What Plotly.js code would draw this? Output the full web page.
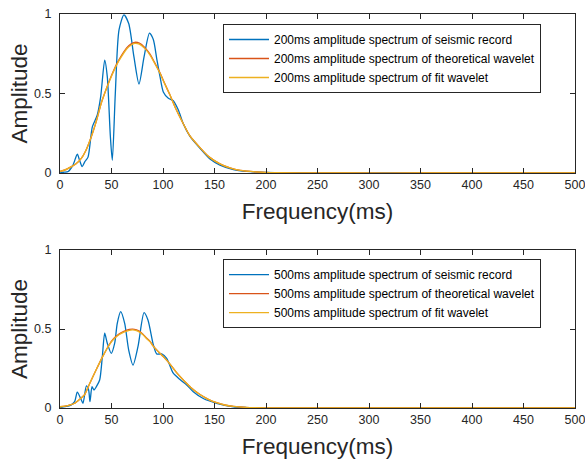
<!DOCTYPE html>
<html>
<head>
<meta charset="utf-8">
<script src="https://cdn.plot.ly/plotly-3.0.1.min.js"></script>
<style>html,body{margin:0;padding:0;background:#fff}#chart{width:585px;height:464px}</style>
</head>
<body>
<div id="chart"></div>
<script>
// ---- Top panel (200ms) ----
const seisTopF = [0, 4, 8, 12.6, 16.8, 19, 21.5, 24, 27.2, 31.4, 36.2, 39.5, 43.4, 45.9, 48.9, 50.8, 53.7, 57.3, 62.1, 66.7, 71.8, 76.7, 81.6, 86.9, 90.6, 93.9, 97.1, 100.3, 105.2, 110, 114.9, 119.7, 126.2, 135.9, 145.6, 155.3, 168.3, 181.2, 200, 230, 260, 300, 350, 400, 450, 500];
const seisTopA = [0, 0.005, 0.01, 0.05, 0.118, 0.08, 0.04, 0.07, 0.10, 0.29, 0.365, 0.48, 0.71, 0.606, 0.23, 0.08, 0.50, 0.90, 0.994, 0.94, 0.73, 0.56, 0.73, 0.88, 0.84, 0.72, 0.606, 0.51, 0.47, 0.455, 0.396, 0.31, 0.23, 0.155, 0.088, 0.05, 0.022, 0.01, 0.004, 0.002, 0.001, 0.001, 0, 0, 0, 0];
const wavTopF = [0, 5, 11, 15, 20.7, 25, 30.4, 35, 40.1, 45, 49.8, 55, 59.5, 64.7, 69.2, 72.5, 77, 82.2, 87.4, 91.9, 97.1, 101, 106.8, 112, 119.7, 126, 135.9, 145, 155.3, 165, 175, 190, 210, 240, 280, 350, 420, 500];
const theoTopA = [0.01, 0.02, 0.04, 0.055, 0.092, 0.14, 0.228, 0.32, 0.44, 0.53, 0.61, 0.685, 0.737, 0.787, 0.813, 0.822, 0.817, 0.79, 0.747, 0.694, 0.63, 0.572, 0.49, 0.41, 0.31, 0.235, 0.16, 0.1, 0.058, 0.032, 0.016, 0.007, 0.002, 0.001, 0, 0, 0, 0];
const fitTopA = [0.01, 0.02, 0.04, 0.055, 0.092, 0.14, 0.228, 0.32, 0.44, 0.53, 0.606, 0.68, 0.73, 0.78, 0.805, 0.815, 0.81, 0.784, 0.742, 0.69, 0.627, 0.57, 0.49, 0.41, 0.31, 0.235, 0.16, 0.1, 0.058, 0.032, 0.016, 0.007, 0.002, 0.001, 0, 0, 0, 0];

// ---- Bottom panel (500ms) ----
const seisBotF = [0, 5, 11, 14.2, 16.8, 20.1, 22.3, 25.6, 27.8, 29.1, 31.1, 33, 35.3, 38.5, 41.1, 43.4, 45.9, 49.8, 53.1, 55.6, 58.9, 62.8, 66.7, 70.9, 75.7, 81.6, 85.4, 90.6, 93.9, 98.7, 103.6, 110, 116.5, 123, 129.4, 139.1, 152, 168.3, 181, 200, 250, 300, 400, 500];
const seisBotA = [0.003, 0.008, 0.02, 0.04, 0.10, 0.06, 0.03, 0.14, 0.114, 0.04, 0.135, 0.114, 0.135, 0.177, 0.325, 0.473, 0.41, 0.346, 0.41, 0.536, 0.61, 0.536, 0.367, 0.272, 0.388, 0.603, 0.557, 0.40, 0.342, 0.342, 0.314, 0.22, 0.18, 0.146, 0.103, 0.06, 0.03, 0.008, 0.003, 0.001, 0, 0, 0, 0];
const wavBotF = [0, 5, 10, 14.2, 19, 23.9, 28.5, 35, 41.4, 47.9, 52, 57.6, 62, 67.3, 70.2, 72.2, 76, 80.3, 84, 87.4, 90, 95, 100.3, 106.8, 113, 119.7, 127, 135.9, 144, 152, 160, 168.3, 180, 200, 230, 300, 400, 500];
const theoBotA = [0.008, 0.012, 0.02, 0.03, 0.055, 0.085, 0.15, 0.24, 0.325, 0.402, 0.438, 0.469, 0.485, 0.497, 0.499, 0.498, 0.49, 0.469, 0.443, 0.422, 0.397, 0.36, 0.325, 0.278, 0.225, 0.177, 0.13, 0.085, 0.055, 0.034, 0.019, 0.01, 0.004, 0.001, 0, 0, 0, 0];
const fitBotA = [0.008, 0.012, 0.02, 0.03, 0.055, 0.085, 0.15, 0.24, 0.325, 0.4, 0.435, 0.465, 0.48, 0.492, 0.494, 0.493, 0.485, 0.465, 0.44, 0.42, 0.395, 0.36, 0.325, 0.278, 0.225, 0.177, 0.13, 0.085, 0.055, 0.034, 0.019, 0.01, 0.004, 0.001, 0, 0, 0, 0];

const namesTop = ['200ms amplitude spectrum of seismic record', '200ms amplitude spectrum of theoretical wavelet', '200ms amplitude spectrum of fit wavelet'];
const namesBot = ['500ms amplitude spectrum of seismic record', '500ms amplitude spectrum of theoretical wavelet', '500ms amplitude spectrum of fit wavelet'];
const xTicks = [0, 50, 100, 150, 200, 250, 300, 350, 400, 450, 500];
const xTickText = ['0', '50', '100', '150', '200', '250', '300', '350', '400', '450', '500'];
const yTicks = [0, 0.5, 1];
const yTickText = ['0', '0.5', '1'];

const colors = ['#0072BD', '#D95319', '#EDB120'];
const lw = 1.3;
function tr(x, y, name, c, xa, ya, leg) {
  return {x: x, y: y, name: name, type: 'scatter', mode: 'lines',
    line: {color: c, width: lw, shape: 'spline', smoothing: 0.7},
    xaxis: xa, yaxis: ya, legend: leg, hoverinfo: 'skip'};
}
const data = [
  tr(seisTopF, seisTopA, namesTop[0], colors[0], 'x', 'y', 'legend'),
  tr(wavTopF, theoTopA, namesTop[1], colors[1], 'x', 'y', 'legend'),
  tr(wavTopF, fitTopA, namesTop[2], colors[2], 'x', 'y', 'legend'),
  tr(seisBotF, seisBotA, namesBot[0], colors[0], 'x2', 'y2', 'legend2'),
  tr(wavBotF, theoBotA, namesBot[1], colors[1], 'x2', 'y2', 'legend2'),
  tr(wavBotF, fitBotA, namesBot[2], colors[2], 'x2', 'y2', 'legend2')
];

const axCol = '#262626';
const font = 'Arial, "Liberation Sans", sans-serif';
function xax(anchor) {
  return {anchor: anchor, range: [0, 500], tickmode: 'array', tickvals: xTicks, ticktext: xTickText,
    ticks: 'inside', ticklen: 5, ticklabeloverflow: 'allow',
    tickcolor: axCol, showline: true, linecolor: axCol, linewidth: 1, mirror: 'ticks',
    showgrid: false, zeroline: false, tickfont: {family: font, size: 12.5, color: axCol},
    title: {text: 'Frequency(ms)', font: {family: font, size: 22.5, color: axCol}, standoff: 12}};
}
function yax(anchor, dom) {
  return {anchor: anchor, domain: dom, range: [0, 1], tickmode: 'array', tickvals: yTicks, ticktext: yTickText,
    ticks: 'inside', ticklen: 5, tickcolor: axCol, showline: true, linecolor: axCol, linewidth: 1,
    mirror: 'ticks', showgrid: false, zeroline: false, ticklabelstandoff: 5,
    tickfont: {family: font, size: 12.5, color: axCol},
    title: {text: 'Amplitude', font: {family: font, size: 22.5, color: axCol}, standoff: 0}};
}
const legStyle = {bgcolor: '#fff', bordercolor: axCol, borderwidth: 1,
  font: {family: font, size: 12, color: '#000'}, xanchor: 'left', yanchor: 'top',
  tracegroupgap: 0, itemwidth: 40};
const layout = {
  width: 585, height: 464,
  margin: {l: 60, r: 10, t: 14, b: 56},
  paper_bgcolor: '#fff', plot_bgcolor: '#fff',
  showlegend: true,
  xaxis: xax('y'),
  yaxis: yax('x', [0.5964, 1]),
  xaxis2: xax('y2'),
  yaxis2: yax('x2', [0, 0.401]),
  legend: Object.assign({x: 0.3165, y: 0.9746}, legStyle),
  legend2: Object.assign({x: 0.3165, y: 0.378}, legStyle)
};
Plotly.newPlot('chart', data, layout, {staticPlot: true, displayModeBar: false});
</script>
</body>
</html>
